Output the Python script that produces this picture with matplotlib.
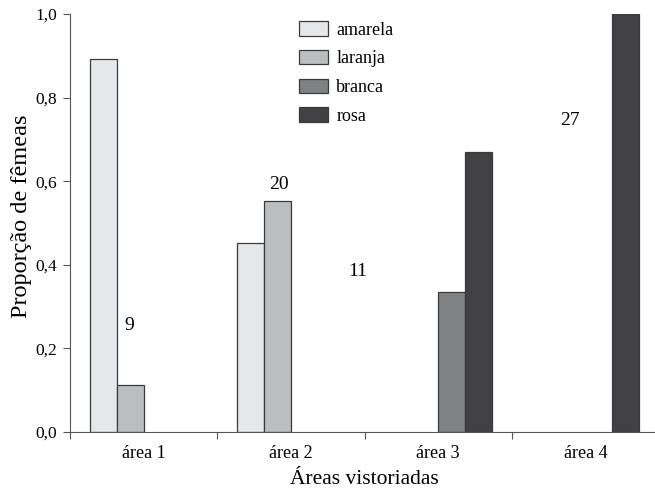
import numpy as np
import matplotlib.pyplot as plt
from matplotlib.ticker import FixedLocator, FuncFormatter

# data
areas = ["área 1", "área 2", "área 3", "área 4"]
series = ["amarela", "laranja", "branca", "rosa"]
amarela = [0.892, 0.452, 0.0, 0.0]
laranja = [0.112, 0.553, 0.0, 0.0]
branca = [0.0, 0.0, 0.335, 0.0]
rosa = [0.0, 0.0, 0.670, 1.0]
n_labels = ["9", "20", "11", "27"]
n_pos_x = [0.40, 1.419, 1.955, 3.394]
n_pos_y = [0.254, 0.593, 0.385, 0.746]

colors = ["#e6e7e8", "#bcbdbf", "#808183", "#414042"]

plt.rcParams['font.family'] = ['Liberation Serif', 'DejaVu Serif']

fig = plt.figure(figsize=(6.55, 4.94), dpi=100)
ax = fig.add_axes([70/655, 1-432/494, 589/655, 418/494])

w = 0.183
x = np.arange(len(areas)) + 0.5
vals = [amarela, laranja, branca, rosa]
for j, (name, v, c) in enumerate(zip(series, vals, colors)):
    h = [vv if vv > 0 else np.nan for vv in v]
    ax.bar(x + (j - 1.5) * w, h, width=w, color=c, edgecolor="#3a3a3a",
           linewidth=0.9, label=name)

for t, tx, ty in zip(n_labels, n_pos_x, n_pos_y):
    ax.text(tx, ty, t, ha="center", va="center", fontsize=14)

ax.set_xlim(0, 4)
ax.set_ylim(0, 1.0)
ax.set_yticks(np.arange(0, 1.01, 0.2))
ax.yaxis.set_major_formatter(FuncFormatter(lambda v, p: f"{v:.1f}".replace(".", ",")))
ax.xaxis.set_major_locator(FixedLocator([0, 1, 2, 3, 4]))
ax.xaxis.set_major_formatter(FuncFormatter(lambda v, p: ""))
ax.xaxis.set_minor_locator(FixedLocator(list(x)))
ax.set_xticklabels(areas, minor=True)
ax.tick_params(axis="x", which="minor", length=0, labelsize=13, pad=9)
ax.tick_params(axis="x", which="major", length=5, color="#555555")
ax.tick_params(axis="y", length=5, color="#555555", labelsize=12.5, pad=4)

ax.spines['right'].set_color('none')
ax.spines['top'].set_color('none')
ax.spines['left'].set_color('#555555')
ax.spines['bottom'].set_color('#555555')

ax.set_ylabel("Proporção de fêmeas", fontsize=17.5)
ax.yaxis.set_label_coords(-0.064, 0.515)
ax.set_xlabel("Áreas vistoriadas", fontsize=15.5)
ax.xaxis.set_label_coords(0.5, -0.092)

leg = ax.legend(loc="upper left", bbox_to_anchor=(292/655, 1-14/494),
                bbox_transform=fig.transFigure, frameon=False, fontsize=13,
                handlelength=1.6, handleheight=0.85, handletextpad=0.45,
                labelspacing=0.62, borderaxespad=0)

fig.savefig("out.png", dpi=100)
